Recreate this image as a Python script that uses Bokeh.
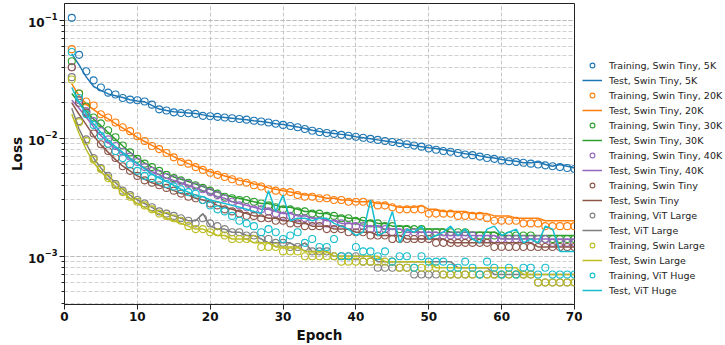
from bokeh.plotting import figure
from bokeh.models import Range1d, Legend, LegendItem, FixedTicker
from bokeh.layouts import row
from bokeh.embed import file_html
from bokeh.resources import INLINE

epochs = list(range(1, 71))

models = ["Swin Tiny, 5K", "Swin Tiny, 20K", "Swin Tiny, 30K", "Swin Tiny, 40K",
          "Swin Tiny", "ViT Large", "Swin Large", "ViT Huge"]
colors = ["#1f77b4", "#ff7f0e", "#2ca02c", "#9467bd",
          "#8c564b", "#7f7f7f", "#bcbd22", "#17becf"]

train_5k = [0.1050, 0.0510, 0.0370, 0.0310, 0.0270, 0.0244, 0.0235, 0.0220, 0.0213, 0.0210,
            0.0205, 0.0193, 0.0176, 0.0172, 0.0166, 0.0164, 0.0163, 0.0161, 0.0155, 0.0154,
            0.0152, 0.0150, 0.0148, 0.0146, 0.0144, 0.0141, 0.0139, 0.0136, 0.0133, 0.0130,
            0.0127, 0.0124, 0.0120, 0.0116, 0.0113, 0.0111, 0.0109, 0.0107, 0.0105, 0.0103,
            0.0101, 0.0099, 0.0097, 0.0095, 0.0093, 0.0091, 0.0089, 0.0087, 0.0085, 0.0082,
            0.0080, 0.0078, 0.0077, 0.0075, 0.0073, 0.0072, 0.0070, 0.0068, 0.0067, 0.0065,
            0.0064, 0.0063, 0.0062, 0.0061, 0.0060, 0.0059, 0.0058, 0.0057, 0.0056, 0.0055]
test_5k = [0.0520, 0.0420, 0.0330, 0.0275, 0.0255, 0.0238, 0.0230, 0.0222, 0.0212, 0.0207,
           0.0204, 0.0190, 0.0177, 0.0172, 0.0168, 0.0166, 0.0164, 0.0162, 0.0158, 0.0154,
           0.0152, 0.0150, 0.0148, 0.0146, 0.0144, 0.0141, 0.0139, 0.0136, 0.0133, 0.0131,
           0.0128, 0.0125, 0.0121, 0.0117, 0.0114, 0.0112, 0.0110, 0.0108, 0.0106, 0.0103,
           0.0101, 0.0099, 0.0097, 0.0095, 0.0093, 0.0091, 0.0089, 0.0087, 0.0085, 0.0083,
           0.0082, 0.0080, 0.0078, 0.0076, 0.0074, 0.0073, 0.0071, 0.0069, 0.0068, 0.0066,
           0.0065, 0.0064, 0.0062, 0.0062, 0.0063, 0.0060, 0.0058, 0.0060, 0.0058, 0.0056]

train_20k = [0.0570, 0.0240, 0.0205, 0.0190, 0.0160, 0.0150, 0.0136, 0.0124, 0.0115, 0.0104,
             0.0095, 0.0086, 0.0081, 0.0075, 0.0069, 0.0063, 0.0061, 0.0057, 0.0054, 0.0051,
             0.0049, 0.0047, 0.0045, 0.0043, 0.0042, 0.0040, 0.0039, 0.0037, 0.0036, 0.0035,
             0.0035, 0.0033, 0.0032, 0.0032, 0.0031, 0.0031, 0.0030, 0.0030, 0.0029, 0.0029,
             0.0029, 0.0028, 0.0027, 0.0027, 0.0026, 0.0025, 0.0025, 0.0025, 0.0025, 0.0023,
             0.0023, 0.0023, 0.0023, 0.0022, 0.0022, 0.0022, 0.0022, 0.0021, 0.0020, 0.0020,
             0.0020, 0.0020, 0.0019, 0.0019, 0.0019, 0.0018, 0.0018, 0.0018, 0.0018, 0.0018]
test_20k = [0.0290, 0.0230, 0.0195, 0.0175, 0.0158, 0.0146, 0.0133, 0.0122, 0.0112, 0.0102,
            0.0094, 0.0087, 0.0081, 0.0075, 0.0070, 0.0065, 0.0061, 0.0058, 0.0055, 0.0052,
            0.0050, 0.0048, 0.0046, 0.0044, 0.0043, 0.0041, 0.0040, 0.0038, 0.0037, 0.0036,
            0.0035, 0.0034, 0.0033, 0.0033, 0.0032, 0.0031, 0.0031, 0.0030, 0.0030, 0.0029,
            0.0029, 0.0029, 0.0028, 0.0028, 0.0027, 0.0026, 0.0026, 0.0026, 0.0027, 0.0025,
            0.0025, 0.0024, 0.0024, 0.0024, 0.0024, 0.0023, 0.0023, 0.0023, 0.0022, 0.0022,
            0.0022, 0.0021, 0.0021, 0.0021, 0.0021, 0.0020, 0.0020, 0.0020, 0.0020, 0.0020]

train_30k = [0.0450, 0.0240, 0.0186, 0.0150, 0.0134, 0.0117, 0.0102, 0.0087, 0.0076, 0.0067,
             0.0061, 0.0057, 0.0053, 0.0049, 0.0046, 0.0044, 0.0042, 0.0040, 0.0038, 0.0036,
             0.0034, 0.0032, 0.0031, 0.0030, 0.0030, 0.0029, 0.0028, 0.0027, 0.0026, 0.0025,
             0.0025, 0.0024, 0.0024, 0.0023, 0.0023, 0.0022, 0.0022, 0.0021, 0.0021, 0.0020,
             0.0020, 0.0019, 0.0019, 0.0018, 0.0018, 0.0017, 0.0017, 0.0017, 0.0017, 0.0016,
             0.0016, 0.0016, 0.0016, 0.0016, 0.0016, 0.0015, 0.0015, 0.0015, 0.0015, 0.0015,
             0.0015, 0.0015, 0.0015, 0.0015, 0.0014, 0.0014, 0.0014, 0.0014, 0.0014, 0.0014]
test_30k = [0.0240, 0.0200, 0.0170, 0.0145, 0.0128, 0.0112, 0.0098, 0.0086, 0.0076, 0.0068,
            0.0062, 0.0057, 0.0053, 0.0050, 0.0047, 0.0045, 0.0043, 0.0041, 0.0039, 0.0037,
            0.0035, 0.0033, 0.0032, 0.0031, 0.0030, 0.0029, 0.0028, 0.0028, 0.0027, 0.0026,
            0.0026, 0.0025, 0.0024, 0.0024, 0.0023, 0.0023, 0.0022, 0.0022, 0.0021, 0.0021,
            0.0020, 0.0020, 0.0019, 0.0019, 0.0018, 0.0018, 0.0018, 0.0017, 0.0017, 0.0017,
            0.0017, 0.0017, 0.0016, 0.0016, 0.0016, 0.0016, 0.0016, 0.0016, 0.0016, 0.0015,
            0.0015, 0.0015, 0.0015, 0.0015, 0.0015, 0.0015, 0.0015, 0.0015, 0.0015, 0.0015]

train_40k = [0.0400, 0.0210, 0.0170, 0.0140, 0.0115, 0.0098, 0.0086, 0.0077, 0.0070, 0.0063,
             0.0057, 0.0053, 0.0050, 0.0047, 0.0045, 0.0043, 0.0041, 0.0039, 0.0037, 0.0035,
             0.0033, 0.0031, 0.0029, 0.0027, 0.0026, 0.0025, 0.0025, 0.0024, 0.0023, 0.0022,
             0.0022, 0.0021, 0.0021, 0.0020, 0.0020, 0.0019, 0.0019, 0.0019, 0.0018, 0.0018,
             0.0018, 0.0017, 0.0017, 0.0017, 0.0016, 0.0016, 0.0016, 0.0016, 0.0015, 0.0015,
             0.0015, 0.0015, 0.0015, 0.0015, 0.0015, 0.0015, 0.0014, 0.0014, 0.0014, 0.0014,
             0.0014, 0.0014, 0.0014, 0.0014, 0.0014, 0.0014, 0.0013, 0.0013, 0.0013, 0.0013]
test_40k = [0.0210, 0.0180, 0.0150, 0.0125, 0.0105, 0.0092, 0.0082, 0.0074, 0.0067, 0.0061,
            0.0056, 0.0052, 0.0049, 0.0046, 0.0044, 0.0042, 0.0040, 0.0038, 0.0036, 0.0034,
            0.0032, 0.0031, 0.0029, 0.0028, 0.0027, 0.0026, 0.0025, 0.0025, 0.0024, 0.0023,
            0.0023, 0.0022, 0.0022, 0.0021, 0.0021, 0.0020, 0.0020, 0.0019, 0.0019, 0.0019,
            0.0018, 0.0018, 0.0018, 0.0017, 0.0017, 0.0017, 0.0016, 0.0016, 0.0016, 0.0016,
            0.0016, 0.0015, 0.0015, 0.0015, 0.0015, 0.0015, 0.0015, 0.0015, 0.0015, 0.0014,
            0.0014, 0.0014, 0.0014, 0.0014, 0.0014, 0.0014, 0.0014, 0.0014, 0.0014, 0.0014]

train_swin_tiny = [0.0400, 0.0200, 0.0165, 0.0110, 0.0089, 0.0078, 0.0068, 0.0058, 0.0053, 0.0048,
                   0.0044, 0.0042, 0.0040, 0.0038, 0.0036, 0.0034, 0.0032, 0.0031, 0.0030, 0.0028,
                   0.0027, 0.0025, 0.0024, 0.0023, 0.0022, 0.0022, 0.0021, 0.0021, 0.0020, 0.0020,
                   0.0019, 0.0019, 0.0018, 0.0018, 0.0018, 0.0017, 0.0017, 0.0017, 0.0016, 0.0016,
                   0.0016, 0.0015, 0.0015, 0.0015, 0.0014, 0.0014, 0.0014, 0.0014, 0.0014, 0.0014,
                   0.0013, 0.0013, 0.0013, 0.0013, 0.0013, 0.0013, 0.0013, 0.0013, 0.0012, 0.0012,
                   0.0012, 0.0012, 0.0012, 0.0012, 0.0012, 0.0012, 0.0012, 0.0012, 0.0012, 0.0012]
test_swin_tiny = [0.0200, 0.0160, 0.0130, 0.0105, 0.0088, 0.0076, 0.0066, 0.0058, 0.0053, 0.0048,
                  0.0045, 0.0042, 0.0040, 0.0038, 0.0036, 0.0034, 0.0033, 0.0031, 0.0030, 0.0029,
                  0.0027, 0.0026, 0.0025, 0.0024, 0.0023, 0.0022, 0.0022, 0.0021, 0.0021, 0.0020,
                  0.0020, 0.0019, 0.0019, 0.0018, 0.0018, 0.0018, 0.0017, 0.0017, 0.0017, 0.0016,
                  0.0016, 0.0016, 0.0015, 0.0015, 0.0015, 0.0015, 0.0014, 0.0014, 0.0014, 0.0014,
                  0.0014, 0.0014, 0.0013, 0.0013, 0.0013, 0.0013, 0.0013, 0.0013, 0.0013, 0.0013,
                  0.0013, 0.0013, 0.0013, 0.0013, 0.0012, 0.0012, 0.0012, 0.0012, 0.0012, 0.0012]

train_vit_large = [0.0330, 0.0140, 0.0098, 0.0068, 0.0056, 0.0048, 0.0041, 0.0036, 0.0033, 0.0030,
                   0.0028, 0.0026, 0.0024, 0.0023, 0.0022, 0.0021, 0.0020, 0.0019, 0.0021, 0.0019,
                   0.0018, 0.0017, 0.0016, 0.0016, 0.0015, 0.0015, 0.0014, 0.0014, 0.0013, 0.0013,
                   0.0012, 0.0012, 0.0012, 0.0011, 0.0011, 0.0011, 0.0010, 0.0010, 0.0010, 0.0010,
                   0.0009, 0.0009, 0.0008, 0.0008, 0.0008, 0.0008, 0.0008, 0.0007, 0.0007, 0.0007,
                   0.0007, 0.0007, 0.0007, 0.0007, 0.0007, 0.0007, 0.0007, 0.0007, 0.0007, 0.0007,
                   0.0007, 0.0007, 0.0007, 0.0007, 0.0006, 0.0006, 0.0006, 0.0006, 0.0006, 0.0006]
test_vit_large = [0.0180, 0.0120, 0.0090, 0.0068, 0.0056, 0.0048, 0.0042, 0.0037, 0.0033, 0.0030,
                  0.0028, 0.0026, 0.0024, 0.0023, 0.0022, 0.0021, 0.0020, 0.0020, 0.0023, 0.0018,
                  0.0017, 0.0017, 0.0016, 0.0016, 0.0015, 0.0015, 0.0014, 0.0013, 0.0013, 0.0013,
                  0.0013, 0.0012, 0.0013, 0.0011, 0.0011, 0.0011, 0.0010, 0.0010, 0.0010, 0.0010,
                  0.0010, 0.0010, 0.0009, 0.0009, 0.0009, 0.0009, 0.0009, 0.0009, 0.0009, 0.0009,
                  0.0009, 0.0009, 0.0009, 0.0008, 0.0008, 0.0008, 0.0008, 0.0008, 0.0007, 0.0007,
                  0.0007, 0.0007, 0.0007, 0.0007, 0.0007, 0.0007, 0.0007, 0.0007, 0.0007, 0.0007]

train_swin_large = [0.0315, 0.0137, 0.0095, 0.0066, 0.0055, 0.0046, 0.0040, 0.0035, 0.0032, 0.0029,
                    0.0027, 0.0025, 0.0023, 0.0022, 0.0021, 0.0020, 0.0018, 0.0017, 0.0017, 0.0016,
                    0.0016, 0.0015, 0.0014, 0.0014, 0.0014, 0.0014, 0.0012, 0.0012, 0.0012, 0.0011,
                    0.0011, 0.0011, 0.0010, 0.0010, 0.0010, 0.0010, 0.0010, 0.0009, 0.0009, 0.0009,
                    0.0009, 0.0009, 0.0009, 0.0009, 0.0009, 0.0008, 0.0008, 0.0008, 0.0008, 0.0008,
                    0.0008, 0.0007, 0.0007, 0.0007, 0.0007, 0.0007, 0.0007, 0.0007, 0.0007, 0.0007,
                    0.0007, 0.0007, 0.0007, 0.0007, 0.0006, 0.0006, 0.0006, 0.0006, 0.0006, 0.0006]
test_swin_large = [0.0160, 0.0110, 0.0080, 0.0062, 0.0052, 0.0045, 0.0039, 0.0035, 0.0031, 0.0028,
                   0.0026, 0.0024, 0.0023, 0.0021, 0.0020, 0.0019, 0.0018, 0.0017, 0.0017, 0.0016,
                   0.0015, 0.0015, 0.0014, 0.0014, 0.0014, 0.0013, 0.0013, 0.0013, 0.0012, 0.0012,
                   0.0012, 0.0012, 0.0011, 0.0011, 0.0011, 0.0011, 0.0010, 0.0010, 0.0010, 0.0010,
                   0.0010, 0.0010, 0.0010, 0.0009, 0.0009, 0.0009, 0.0009, 0.0009, 0.0009, 0.0009,
                   0.0008, 0.0008, 0.0008, 0.0008, 0.0008, 0.0008, 0.0008, 0.0008, 0.0008, 0.0008,
                   0.0008, 0.0008, 0.0007, 0.0007, 0.0007, 0.0007, 0.0007, 0.0007, 0.0007, 0.0007]

train_vit_huge = [0.0540, 0.0220, 0.0160, 0.0130, 0.0105, 0.0090, 0.0078, 0.0068, 0.0060, 0.0053,
                  0.0048, 0.0046, 0.0044, 0.0041, 0.0039, 0.0037, 0.0035, 0.0034, 0.0030, 0.0027,
                  0.0025, 0.0024, 0.0022, 0.0020, 0.0019, 0.0018, 0.0016, 0.0017, 0.0016, 0.0014,
                  0.0015, 0.0016, 0.0013, 0.0014, 0.0012, 0.0012, 0.0014, 0.0010, 0.0010, 0.0012,
                  0.0011, 0.0011, 0.0010, 0.0011, 0.0009, 0.0010, 0.0010, 0.0008, 0.0010, 0.0009,
                  0.0009, 0.0009, 0.0008, 0.0008, 0.0009, 0.0008, 0.0007, 0.0009, 0.0008, 0.0007,
                  0.0008, 0.0007, 0.0008, 0.0008, 0.0007, 0.0008, 0.0007, 0.0007, 0.0007, 0.0007]
test_vit_huge = [0.0270, 0.0200, 0.0160, 0.0132, 0.0112, 0.0096, 0.0085, 0.0076, 0.0068, 0.0061,
                 0.0055, 0.0050, 0.0046, 0.0043, 0.0040, 0.0037, 0.0035, 0.0033, 0.0032, 0.0030,
                 0.0029, 0.0028, 0.0027, 0.0026, 0.0025, 0.0024, 0.0023, 0.0036, 0.0024, 0.0033,
                 0.0020, 0.0021, 0.0021, 0.0020, 0.0021, 0.0021, 0.0019, 0.0018, 0.0017, 0.0015,
                 0.0016, 0.0030, 0.0015, 0.0016, 0.0024, 0.0013, 0.0017, 0.0016, 0.0018, 0.0014,
                 0.0015, 0.0016, 0.0018, 0.0015, 0.0017, 0.0014, 0.0013, 0.0017, 0.0018, 0.0015,
                 0.0016, 0.0017, 0.0013, 0.0014, 0.0013, 0.0018, 0.0017, 0.0011, 0.0011, 0.0011]

train_series = [train_5k, train_20k, train_30k, train_40k,
                train_swin_tiny, train_vit_large, train_swin_large, train_vit_huge]
test_series = [test_5k, test_20k, test_30k, test_40k,
               test_swin_tiny, test_vit_large, test_swin_large, test_vit_huge]

FONT = "DejaVu Sans"
H = 345
MAIN_W, LEG_W = 582, 143

p = figure(width=MAIN_W, height=H, y_axis_type="log",
           x_range=Range1d(0, 70), y_range=Range1d(3.9e-4, 0.139),
           output_backend="svg", toolbar_location=None,
           min_border_left=64, min_border_right=8, min_border_top=3, min_border_bottom=38)
p.background_fill_color = "white"
p.border_fill_color = "white"
p.outline_line_color = "#222222"
p.outline_line_width = 1

# legend-only panel beside the plot (its glyph stand-ins sit outside its range)
lf = figure(width=LEG_W, height=H, x_range=Range1d(0, 1), y_range=Range1d(0, 1),
            output_backend="svg", toolbar_location=None,
            x_axis_location=None, y_axis_location=None,
            min_border_left=0, min_border_right=0, min_border_top=3, min_border_bottom=38)
lf.outline_line_color = None
lf.xgrid.visible = False
lf.ygrid.visible = False
lf.background_fill_color = "white"
lf.border_fill_color = "white"

items = []
for name, col, tr, te in zip(models, colors, train_series, test_series):
    p.scatter(epochs, tr, marker="circle", size=7, fill_color=None,
              line_color=col, line_width=1.1)
    p.line(epochs, te, line_color=col, line_width=1.5)
    d1 = lf.scatter([-5], [-5], marker="circle", size=7, fill_color=None,
                    line_color=col, line_width=1.1)
    d2 = lf.line([-5, -4], [-5, -4], line_color=col, line_width=1.5)
    items.append(LegendItem(label="Training, " + name, renderers=[d1]))
    items.append(LegendItem(label="Test, " + name, renderers=[d2]))

legend = Legend(items=items, location=(0, 8), padding=0, margin=0,
                border_line_color=None, background_fill_alpha=0,
                glyph_width=20, glyph_height=12, label_height=12, spacing=3,
                label_standoff=7, label_text_font=FONT, label_text_font_size="9.5px",
                label_text_color="#222222")
lf.add_layout(legend, "center")

# grids
for g in (p.xgrid, p.ygrid):
    g.grid_line_color = "#b8b8b8"
    g.grid_line_dash = "4 2"
    g.grid_line_width = 0.8
p.ygrid.minor_grid_line_color = "#c4c4c4"
p.ygrid.minor_grid_line_dash = "4 2"
p.ygrid.minor_grid_line_width = 0.8

p.xaxis.ticker = FixedTicker(ticks=[0, 10, 20, 30, 40, 50, 60, 70])
for ax in (p.xaxis[0], p.yaxis[0]):
    ax.axis_line_color = "#222222"
    ax.major_tick_line_color = "#222222"
    ax.major_tick_out = 5
    ax.major_tick_in = 0
    ax.major_label_standoff = 2
    ax.major_label_text_font = FONT
    ax.major_label_text_font_style = "bold"
    ax.major_label_text_font_size = "12px"
    ax.major_label_text_color = "#111111"
    ax.axis_label_text_font = FONT
    ax.axis_label_text_font_style = "bold"
    ax.axis_label_text_font_size = "13.5px"
    ax.axis_label_text_color = "#111111"
p.xaxis.minor_tick_line_color = None
p.yaxis.minor_tick_line_color = "#222222"
p.yaxis.minor_tick_out = 3
p.yaxis.minor_tick_in = 0
p.xaxis.axis_label = "Epoch"
p.yaxis.axis_label = "Loss"
p.xaxis.axis_label_standoff = 3
p.yaxis.axis_label_standoff = 0

layout = row(p, lf, spacing=0)
open("out.html", "w").write(file_html(layout, INLINE))
